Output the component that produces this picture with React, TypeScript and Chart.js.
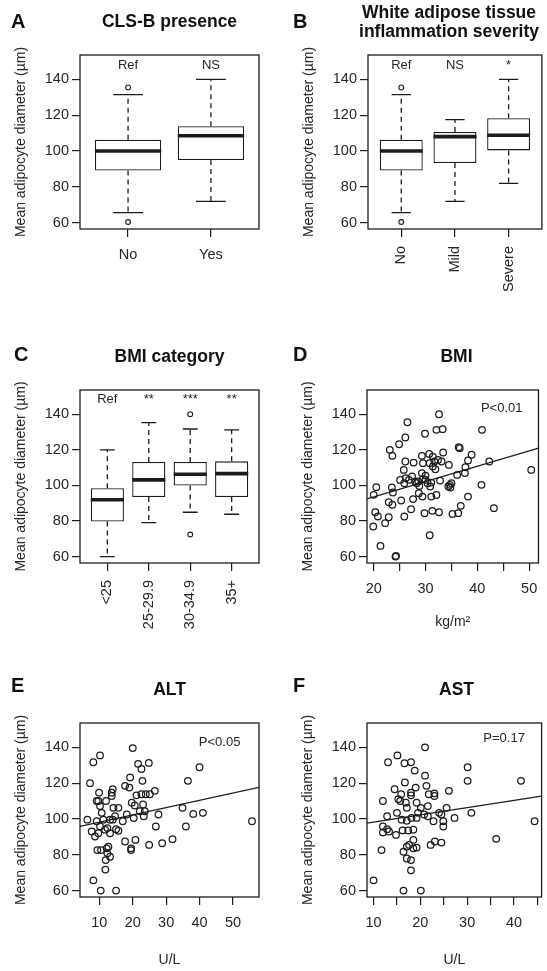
import React, { useEffect, useRef } from 'react';
import { Chart, registerables } from 'chart.js';

Chart.register(...registerables);

const FONT = '"Liberation Sans", Arial, Helvetica, sans-serif';
const INK = '#1c1c1c';
const TEXT = '#262626';

// ---------- shared y axis ----------
const yTicks = [60, 80, 100, 120, 140];
const yTitle = 'Mean adipocyte diameter (µm)';

// ---------- Panel A: CLS-B presence ----------
const clsCategories = ['No', 'Yes'];
const clsLow = [65.5, 71.8];
const clsQ1 = [89.1, 94.9];
const clsMedian = [100, 108.5];
const clsQ3 = [106.3, 113.8];
const clsHigh = [131.5, 140];
const clsOutX = [1, 1];
const clsOutY = [135.5, 60.3];
const clsNotes = ['Ref', 'NS'];

// ---------- Panel B: WAT inflammation severity ----------
const inflCategories = ['No', 'Mild', 'Severe'];
const inflLow = [65.5, 71.8, 81.9];
const inflQ1 = [89.1, 93.3, 100.3];
const inflMedian = [100, 108, 108.8];
const inflQ3 = [106.3, 110.6, 118.3];
const inflHigh = [131.5, 117.5, 140];
const inflOutX = [1, 1];
const inflOutY = [135.5, 60.3];
const inflNotes = ['Ref', 'NS', '*'];

// ---------- Panel C: BMI category ----------
const bmiCatCategories = ['<25', '25-29.9', '30-34.9', '35+'];
const bmiCatLow = [60, 79.1, 84.9, 83.8];
const bmiCatQ1 = [79.7, 93.5, 99.9, 93.5];
const bmiCatMedian = [91.9, 103.1, 106.3, 106.6];
const bmiCatQ3 = [98.4, 113.2, 113.2, 113.5];
const bmiCatHigh = [120, 135.3, 131.7, 131.2];
const bmiCatOutX = [3, 3];
const bmiCatOutY = [140, 72.4];
const bmiCatNotes = ['Ref', '**', '***', '**'];

// ---------- Panel D: BMI ----------
const bmiX = [19.9, 20.3, 20.5, 20.0, 20.8, 21.3, 22.2, 22.9, 22.9, 23.1, 23.6, 23.6, 23.5, 23.7, 24.3, 24.2,
  24.9, 25.1, 25.3, 25.9, 26.1, 26.1, 25.8, 25.9, 26.5, 26.2, 26.8, 27.2, 27.4, 27.7, 27.6, 28.0, 28.7, 28.8,
  28.3, 29.3, 29.3, 29.5, 29.5, 29.4, 29.8, 29.9, 30.0, 30.4, 30.7, 30.8, 30.9, 30.8, 31.1, 31.3, 31.4, 31.4,
  31.7, 31.9, 32.1, 32.1, 32.4, 32.6, 32.6, 32.8, 33.1, 33.3, 33.4, 34.4, 34.5, 34.7, 34.8, 35.0, 35.2, 36.1,
  36.3, 36.4, 36.6, 36.8, 37.6, 37.7, 38.2, 38.2, 38.9, 40.9, 40.8, 42.3, 43.2, 50.4, 28.6, 31.1, 30.0];
const bmiY = [76.9, 84.9, 99.0, 94.7, 82.5, 66.0, 78.8, 82.1, 90.6, 120.0, 116.6, 89.1, 98.8, 96.0, 60.4, 60.0,
  123.1, 103.1, 91.5, 82.5, 126.9, 113.4, 108.7, 101.2, 135.5, 104.1, 103.1, 86.6, 105.0, 112.8, 92.3, 102.2, 95.6, 99.7,
  101.2, 106.9, 116.6, 112.5, 103.5, 93.7, 84.4, 129.0, 105.5, 101.2, 117.7, 112.5, 99.4, 72.0, 93.7, 85.7, 116.2, 110.6,
  113.4, 109.1, 131.2, 94.6, 114.3, 140.0, 84.9, 102.7, 113.4, 131.6, 118.5, 99.4, 111.5, 100.3, 98.8, 101.2, 84.0, 105.9,
  84.4, 121.5, 120.9, 88.5, 106.9, 110.2, 114.0, 93.7, 117.2, 131.2, 100.3, 113.4, 87.2, 108.7, 102.2, 101.6, 103.1];
const bmiFitX = [18.7, 51.8];
const bmiFitY = [92.4, 120.9];
const bmiTickValues = [20, 25, 30, 35, 40, 45, 50];
const bmiTickLabels = ['20', '', '30', '', '40', '', '50'];
const bmiP = 'P<0.01';

// ---------- Panel E: ALT ----------
const altX = [6.4, 7.2, 8.2, 10.2, 7.7, 8.7, 9.2, 9.7, 9.9, 10.2, 10.7, 9.2, 9.7, 10.2, 9.4, 10.5, 8.2, 10.4,
  11.2, 11.7, 12.0, 12.2, 12.4, 11.9, 11.8, 12.7, 13.2, 13.2, 13.7, 13.7, 14.0, 14.0, 14.2, 13.2, 12.4, 14.7,
  15.0, 15.7, 15.7, 15.0, 17.0, 17.7, 17.7, 18.2, 19.0, 19.2, 19.5, 19.5, 20.0, 19.7, 20.6, 20.3, 20.8, 21.1,
  21.6, 22.1, 22.6, 22.9, 22.6, 23.1, 23.3, 23.9, 23.6, 24.8, 24.9, 25.1, 26.6, 26.9, 27.7, 28.8, 31.9, 34.9,
  35.9, 36.5, 38.1, 40.0, 41.0, 55.7];
const altY = [99.6, 120, 131.7, 135.5, 93, 90.2, 110, 110, 114.7, 107.2, 103.4, 98.7, 92, 95.8, 82.6, 82.6, 65.7, 60,
  99.6, 94, 110, 83.6, 80.8, 77, 71.7, 84.5, 78.9, 92, 114.7, 112.8, 116.6, 99.6, 106.2, 99.6, 94.9, 101.5,
  60, 106.2, 93.4, 94.3, 98.7, 87.4, 118.5, 102.5, 117.5, 123.2, 83.6, 82.6, 139.6, 109.1, 107.5, 100.5, 88.3, 113.2,
  130.8, 104.3, 127.9, 121.3, 113.8, 108.1, 101.5, 113.8, 104.3, 131.3, 85.5, 113.8, 115.7, 95.8, 102.5, 86.4, 88.7, 106.2,
  95.8, 121.3, 102.8, 128.9, 103.4, 98.7];
const altFitX = [4.2, 57.8];
const altFitY = [95.8, 117.6];
const altTickValues = [10, 20, 30, 40, 50];
const altTickLabels = ['10', '20', '30', '40', '50'];
const altP = 'P<0.05';

// ---------- Panel F: AST ----------
const astX = [10.0, 11.7, 12.0, 12.0, 12.0, 12.9, 12.9, 13.1, 13.3, 14.5, 14.8, 15.0, 15.1, 15.3, 15.7, 15.9,
  16.0, 16.2, 16.4, 16.4, 16.6, 16.7, 16.9, 17.1, 17.1, 17.1, 17.1, 17.4, 17.6, 18.0, 18.0, 18.0, 18.0, 18.0,
  18.1, 18.5, 18.5, 18.5, 18.8, 19.0, 19.2, 19.2, 19.2, 19.5, 20.1, 20.1, 20.8, 21.0, 21.0, 21.3, 21.6, 21.6,
  21.8, 22.2, 23.0, 23.0, 23.1, 22.8, 24.0, 24.5, 24.5, 24.9, 24.9, 25.6, 26.1, 27.3, 30.1, 30.1, 30.9, 36.2,
  41.5, 44.4];
const astY = [65.7, 82.6, 110, 95.8, 92.5, 101.5, 94.3, 131.7, 93, 116.6, 91.1, 103.4, 135.5, 111.1, 110, 113.8,
  99.6, 93.6, 60, 81.7, 131.1, 120.4, 109.1, 106.2, 99, 84.5, 77.9, 93.6, 85.5, 131.7, 114.7, 113.2, 77, 71.3,
  100.6, 94, 88.3, 83.6, 127, 117.5, 109.1, 100.6, 84, 103.4, 60, 106.2, 102.5, 140, 124.2, 118.5, 107.2, 101.5,
  113.8, 85.5, 114.3, 112.8, 87.4, 98.7, 103.4, 86.8, 102.5, 95.8, 98.7, 106.2, 115.7, 100.6, 128.9, 121.3, 103.4, 88.9,
  121.3, 98.7];
const astFitX = [8.6, 45.9];
const astFitY = [97.7, 112.8];
const astTickValues = [10, 15, 20, 25, 30, 35, 40, 45];
const astTickLabels = ['10', '', '20', '', '30', '', '40', ''];
const astP = 'P=0.17';

// ---------- layout ----------
type Frame = { left: number; top: number; width: number; height: number; cLeft: number; cTop: number; cRight: number; cBottom: number };

const frames: Record<string, Frame> = {
  A: { left: 0, top: 0, width: 273, height: 305, cLeft: 80, cTop: 55, cRight: 259, cBottom: 229 },
  B: { left: 273, top: 0, width: 274, height: 305, cLeft: 95, cTop: 55, cRight: 273, cBottom: 229 },
  C: { left: 0, top: 305, width: 273, height: 335, cLeft: 80, cTop: 85, cRight: 259, cBottom: 258 },
  D: { left: 273, top: 305, width: 274, height: 335, cLeft: 94, cTop: 85, cRight: 273, cBottom: 258 },
  E: { left: 0, top: 640, width: 273, height: 331, cLeft: 80, cTop: 83, cRight: 259, cBottom: 257 },
  F: { left: 273, top: 640, width: 274, height: 331, cLeft: 94, cTop: 83, cRight: 273, cBottom: 257 },
};

const Y_MIN = 56.4;
const Y_MAX = 153.6;

type Note = { text: string; x: number; y: number };
type DecorOpts = { letter: string; letterX: number; letterY: number; title: string[]; titleX: number; titleY: number; titleGap: number; notes: Note[] };

function decorPlugin(o: DecorOpts) {
  return {
    id: 'decor',
    afterDraw(chart: any) {
      const { ctx, chartArea: a } = chart;
      const xs = chart.scales.x;
      const ys = chart.scales.y;
      ctx.save();
      ctx.setLineDash([]);
      ctx.strokeStyle = INK;
      ctx.lineWidth = 1.3;
      ctx.strokeRect(a.left, a.top, a.right - a.left, a.bottom - a.top);
      ctx.fillStyle = '#111';
      ctx.textBaseline = 'middle';
      ctx.textAlign = 'left';
      ctx.font = `bold 20px ${FONT}`;
      ctx.fillText(o.letter, o.letterX, o.letterY);
      ctx.textAlign = 'center';
      ctx.font = `bold 17.5px ${FONT}`;
      o.title.forEach((t, i) => ctx.fillText(t, o.titleX, o.titleY + i * o.titleGap));
      ctx.font = `13px ${FONT}`;
      ctx.fillStyle = TEXT;
      o.notes.forEach((n) => ctx.fillText(n.text, xs.getPixelForValue(n.x), ys.getPixelForValue(n.y)));
      ctx.restore();
    },
  };
}

function whiskerPlugin(lo: number[], med: number[], hi: number[]) {
  return {
    id: 'whiskers',
    afterDatasetsDraw(chart: any) {
      const { ctx } = chart;
      const ys = chart.scales.y;
      const meta = chart.getDatasetMeta(0);
      ctx.save();
      ctx.strokeStyle = INK;
      ctx.lineCap = 'butt';
      meta.data.forEach((bar: any, i: number) => {
        const p = bar.getProps(['x', 'y', 'base', 'width'], true);
        const half = p.width / 2;
        const top = Math.min(p.y, p.base);
        const bot = Math.max(p.y, p.base);
        const yHi = ys.getPixelForValue(hi[i]);
        const yLo = ys.getPixelForValue(lo[i]);
        ctx.lineWidth = 1.3;
        ctx.setLineDash([5, 4]);
        ctx.beginPath();
        ctx.moveTo(p.x, top);
        ctx.lineTo(p.x, yHi);
        ctx.moveTo(p.x, bot);
        ctx.lineTo(p.x, yLo);
        ctx.stroke();
        ctx.setLineDash([]);
        const s = half * 0.45;
        ctx.beginPath();
        ctx.moveTo(p.x - s, yHi);
        ctx.lineTo(p.x + s, yHi);
        ctx.moveTo(p.x - s, yLo);
        ctx.lineTo(p.x + s, yLo);
        ctx.stroke();
        ctx.lineWidth = 3.6;
        const ym = ys.getPixelForValue(med[i]);
        ctx.beginPath();
        ctx.moveTo(p.x - half, ym);
        ctx.lineTo(p.x + half, ym);
        ctx.stroke();
      });
      ctx.restore();
    },
  };
}

const tickGrid = { display: true, drawOnChartArea: false, drawTicks: true, tickLength: 8, color: INK, lineWidth: 1.2, offset: false };

function yAxis(f: Frame) {
  return {
    type: 'linear',
    position: 'left',
    min: Y_MIN,
    max: Y_MAX,
    offset: false,
    afterBuildTicks: (s: any) => { s.ticks = yTicks.map((v) => ({ value: v })); },
    afterFit: (s: any) => { s.width = f.cLeft; },
    border: { display: false },
    grid: tickGrid,
    ticks: { autoSkip: false, padding: 3, color: TEXT, font: { family: FONT, size: 14.5 } },
    title: {
      display: true,
      text: yTitle,
      color: TEXT,
      font: { family: FONT, size: 14 },
      padding: { top: f.cLeft - 67.4, bottom: 0 },
    },
  };
}

function baseOptions(f: Frame) {
  return {
    responsive: false,
    animation: false,
    events: [],
    layout: { padding: { left: 0, top: f.cTop, right: f.width - f.cRight, bottom: 0 } },
    plugins: { legend: { display: false }, tooltip: { enabled: false }, title: { display: false } },
  };
}

type BoxSpec = {
  cats: string[]; lo: number[]; q1: number[]; med: number[]; q3: number[]; hi: number[];
  outX: number[]; outY: number[]; notes: string[]; noteY: number; rotate: boolean; decor: Omit<DecorOpts, 'notes'>;
};

function boxConfig(f: Frame, s: BoxSpec) {
  const n = s.cats.length;
  const ext = 0.04 * n;
  return {
    type: 'bar',
    data: {
      datasets: [
        {
          type: 'bar',
          data: s.q1.map((v, i) => ({ x: i + 1, y: [v, s.q3[i]] })),
          backgroundColor: '#ffffff',
          borderColor: INK,
          borderWidth: 1.3,
          borderSkipped: false,
          barPercentage: 0.8,
          categoryPercentage: 1,
        },
        {
          type: 'scatter',
          data: s.outX.map((x, i) => ({ x, y: s.outY[i] })),
          pointStyle: 'circle',
          radius: 2.4,
          borderWidth: 1.1,
          borderColor: INK,
          backgroundColor: 'rgba(0,0,0,0)',
        },
      ],
    },
    options: {
      ...baseOptions(f),
      scales: {
        x: {
          type: 'linear',
          position: 'bottom',
          min: 0.5 - ext,
          max: n + 0.5 + ext,
          offset: false,
          afterBuildTicks: (sc: any) => { sc.ticks = s.cats.map((_c, i) => ({ value: i + 1 })); },
          afterFit: (sc: any) => { sc.height = f.height - f.cBottom; },
          border: { display: false },
          grid: tickGrid,
          ticks: {
            autoSkip: false,
            minRotation: s.rotate ? 90 : 0,
            maxRotation: s.rotate ? 90 : 0,
            padding: s.rotate ? 9 : 9.5,
            color: TEXT,
            font: { family: FONT, size: 14.5 },
            callback: (_v: any, i: number) => s.cats[i],
          },
        },
        y: yAxis(f),
      },
    },
    plugins: [
      whiskerPlugin(s.lo, s.med, s.hi),
      decorPlugin({ ...s.decor, notes: s.notes.map((t, i) => ({ text: t, x: i + 1, y: s.noteY })) }),
    ],
  };
}

type ScatterSpec = {
  xs: number[]; ys: number[]; fitX: number[]; fitY: number[]; xMin: number; xMax: number;
  tickValues: number[]; tickLabels: string[]; xTitle: string; xTitlePad: number; p: Note; decor: Omit<DecorOpts, 'notes'>;
};

function scatterConfig(f: Frame, s: ScatterSpec) {
  return {
    type: 'scatter',
    data: {
      datasets: [
        {
          type: 'scatter',
          data: s.xs.map((x, i) => ({ x, y: s.ys[i] })),
          pointStyle: 'circle',
          radius: 3.3,
          borderWidth: 1.25,
          borderColor: INK,
          backgroundColor: 'rgba(0,0,0,0)',
        },
        {
          type: 'line',
          data: s.fitX.map((x, i) => ({ x, y: s.fitY[i] })),
          borderColor: INK,
          borderWidth: 1.3,
          pointRadius: 0,
          fill: false,
        },
      ],
    },
    options: {
      ...baseOptions(f),
      scales: {
        x: {
          type: 'linear',
          position: 'bottom',
          min: s.xMin,
          max: s.xMax,
          offset: false,
          afterBuildTicks: (sc: any) => { sc.ticks = s.tickValues.map((v) => ({ value: v })); },
          afterFit: (sc: any) => { sc.height = f.height - f.cBottom; },
          border: { display: false },
          grid: tickGrid,
          ticks: {
            autoSkip: false,
            maxRotation: 0,
            minRotation: 0,
            padding: 9.5,
            color: TEXT,
            font: { family: FONT, size: 14.5 },
            callback: (_v: any, i: number) => s.tickLabels[i],
          },
          title: {
            display: true,
            text: s.xTitle,
            color: TEXT,
            font: { family: FONT, size: 14 },
            padding: { top: 0, bottom: s.xTitlePad },
          },
        },
        y: yAxis(f),
      },
    },
    plugins: [decorPlugin({ ...s.decor, notes: [s.p] })],
  };
}

const builders: Record<string, () => any> = {
  A: () => boxConfig(frames.A, {
    cats: clsCategories, lo: clsLow, q1: clsQ1, med: clsMedian, q3: clsQ3, hi: clsHigh,
    outX: clsOutX, outY: clsOutY, notes: clsNotes, noteY: 147.5, rotate: false,
    decor: { letter: 'A', letterX: 11, letterY: 22, title: ['CLS-B presence'], titleX: 169.5, titleY: 22, titleGap: 0 },
  }),
  B: () => boxConfig(frames.B, {
    cats: inflCategories, lo: inflLow, q1: inflQ1, med: inflMedian, q3: inflQ3, hi: inflHigh,
    outX: inflOutX, outY: inflOutY, notes: inflNotes, noteY: 147.5, rotate: true,
    decor: { letter: 'B', letterX: 20, letterY: 22, title: ['White adipose tissue', 'inflammation severity'], titleX: 176, titleY: 13.5, titleGap: 19 },
  }),
  C: () => boxConfig(frames.C, {
    cats: bmiCatCategories, lo: bmiCatLow, q1: bmiCatQ1, med: bmiCatMedian, q3: bmiCatQ3, hi: bmiCatHigh,
    outX: bmiCatOutX, outY: bmiCatOutY, notes: bmiCatNotes, noteY: 148.4, rotate: true,
    decor: { letter: 'C', letterX: 14, letterY: 50.5, title: ['BMI category'], titleX: 169.5, titleY: 52, titleGap: 0 },
  }),
  D: () => scatterConfig(frames.D, {
    xs: bmiX, ys: bmiY, fitX: bmiFitX, fitY: bmiFitY, xMin: 18.7, xMax: 51.8,
    tickValues: bmiTickValues, tickLabels: bmiTickLabels, xTitle: 'kg/m²', xTitlePad: 9.6,
    p: { text: bmiP, x: 44.7, y: 143 },
    decor: { letter: 'D', letterX: 20, letterY: 50.5, title: ['BMI'], titleX: 183.5, titleY: 52, titleGap: 0 },
  }),
  E: () => scatterConfig(frames.E, {
    xs: altX, ys: altY, fitX: altFitX, fitY: altFitY, xMin: 4.2, xMax: 57.8,
    tickValues: altTickValues, tickLabels: altTickLabels, xTitle: 'U/L', xTitlePad: 2.3,
    p: { text: altP, x: 46, y: 143 },
    decor: { letter: 'E', letterX: 11, letterY: 46.5, title: ['ALT'], titleX: 169.5, titleY: 50, titleGap: 0 },
  }),
  F: () => scatterConfig(frames.F, {
    xs: astX, ys: astY, fitX: astFitX, fitY: astFitY, xMin: 8.6, xMax: 45.9,
    tickValues: astTickValues, tickLabels: astTickLabels, xTitle: 'U/L', xTitlePad: 2.3,
    p: { text: astP, x: 37.9, y: 144.9 },
    decor: { letter: 'F', letterX: 20, letterY: 46.5, title: ['AST'], titleX: 183.5, titleY: 50, titleGap: 0 },
  }),
};

function Panel({ id }: { id: string }) {
  const ref = useRef<HTMLCanvasElement>(null);
  const f = frames[id];
  useEffect(() => {
    if (!ref.current) return;
    const chart = new Chart(ref.current, builders[id]());
    return () => chart.destroy();
  }, [id]);
  return (
    <canvas
      ref={ref}
      width={f.width}
      height={f.height}
      style={{ position: 'absolute', left: f.left, top: f.top, width: f.width, height: f.height }}
    />
  );
}

export default function App() {
  return (
    <div style={{ position: 'absolute', left: 0, top: 0, width: 547, height: 971, background: '#fff', overflow: 'hidden' }}>
      {['A', 'B', 'C', 'D', 'E', 'F'].map((id) => (
        <Panel key={id} id={id} />
      ))}
    </div>
  );
}
